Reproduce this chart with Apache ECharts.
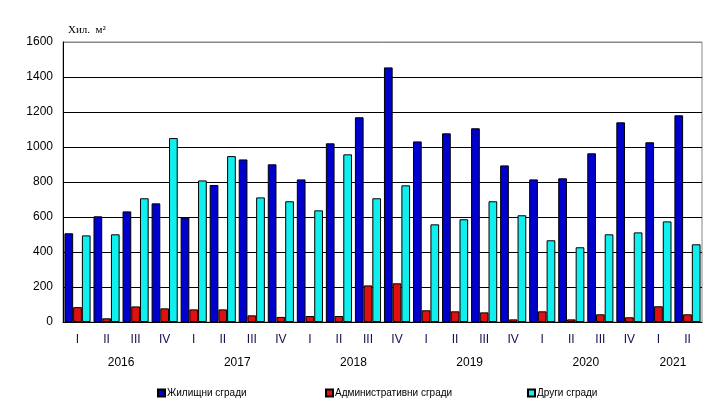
<!DOCTYPE html>
<html>
<head>
<meta charset="utf-8">
<script src="https://cdn.jsdelivr.net/npm/echarts@6/dist/echarts.min.js"></script>
<style>
html,body{margin:0;padding:0;background:#fff;}
#c{width:710px;height:409px;}
</style>
</head>
<body>
<div id="c"></div>
<script>
var quarters = ['I','II','III','IV','I','II','III','IV','I','II','III','IV','I','II','III','IV','I','II','III','IV','I','II'];
var years = ['2016','2017','2018','2019','2020','2021'];
var yearCenters = [2, 6, 10, 14, 18, 21];
var housing = [507, 604, 632, 678, 597, 783, 929, 901, 815, 1021, 1170, 1455, 1032, 1078, 1107, 895, 815, 821, 964, 1141, 1027, 1181];
var admin   = [85, 21, 89, 78, 72, 72, 38, 29, 34, 34, 209, 221, 67, 61, 55, 15, 61, 15, 44, 27, 90, 44];
var other   = [495, 501, 707, 1051, 809, 948, 712, 690, 638, 958, 707, 781, 558, 587, 690, 610, 467, 427, 501, 512, 575, 444];
var seriesNames = ['Жилищни сгради', 'Административни сгради', 'Други сгради'];
var yTicks = [0, 200, 400, 600, 800, 1000, 1200, 1400, 1600];
var unitLabel = 'Хил.  м²';

var chart = echarts.init(document.getElementById('c'), null, {renderer: 'canvas'});
var font = 'Liberation Sans, Arial, sans-serif';
var colors = ['#0000cc', '#e01010', '#11eeee'];
var splitColors = yTicks.map(function (v, i) { return i === yTicks.length - 1 ? '#888888' : '#000000'; });

function mkSeries(name, data, color) {
  return {
    name: name, type: 'bar', data: data, xAxisIndex: 0, yAxisIndex: 0,
    barGap: '0%', barCategoryGap: '10%',
    itemStyle: {color: color, borderColor: '#000', borderWidth: 1},
    emphasis: {disabled: true},
    animation: false
  };
}

var legendStyle = {
  bottom: 6, icon: 'rect', itemWidth: 7, itemHeight: 7, itemGap: 0,
  textStyle: {fontFamily: font, fontSize: 10, color: '#000', padding: [0, 0, 0, -3]},
  selectedMode: false
};

chart.setOption({
  animation: false,
  backgroundColor: '#ffffff',
  title: {
    text: unitLabel, left: 63, top: 20,
    textStyle: {fontFamily: 'Liberation Serif, Times New Roman, serif', fontSize: 11, fontWeight: 'normal', color: '#000'}
  },
  legend: [
    Object.assign({}, legendStyle, {left: 152, data: [seriesNames[0]]}),
    Object.assign({}, legendStyle, {left: 320, data: [seriesNames[1]]}),
    Object.assign({}, legendStyle, {left: 522, data: [seriesNames[2]]})
  ],
  grid: {left: 63, right: 8, top: 42, bottom: 87, show: true, borderColor: '#888888', borderWidth: 1, backgroundColor: 'transparent'},
  xAxis: [
    {
      type: 'category', data: quarters, position: 'bottom',
      axisLine: {show: true, lineStyle: {color: '#000', width: 1}},
      axisTick: {show: false},
      axisLabel: {fontFamily: font, fontSize: 12, color: '#1a0a4a', margin: 12, interval: 0}
    },
    {
      type: 'value', min: 0, max: quarters.length, interval: 1, position: 'bottom', offset: 28,
      axisLine: {show: false}, axisTick: {show: false}, splitLine: {show: false},
      axisLabel: {
        fontFamily: font, fontSize: 12, color: '#000', margin: 7, showMinLabel: true, showMaxLabel: true,
        formatter: function (v) {
          var i = yearCenters.indexOf(Math.round(v));
          return i >= 0 ? years[i] : '';
        }
      }
    }
  ],
  yAxis: {
    type: 'value', min: 0, max: 1600, interval: 200,
    axisLine: {show: true, lineStyle: {color: '#000', width: 1}},
    axisTick: {show: false},
    axisLabel: {fontFamily: font, fontSize: 12, color: '#000', margin: 10, formatter: function (v) { return String(v); }},
    splitLine: {show: true, lineStyle: {color: splitColors, width: 1}}
  },
  series: [
    mkSeries(seriesNames[0], housing, colors[0]),
    mkSeries(seriesNames[1], admin, colors[1]),
    mkSeries(seriesNames[2], other, colors[2])
  ]
});
</script>
</body>
</html>
